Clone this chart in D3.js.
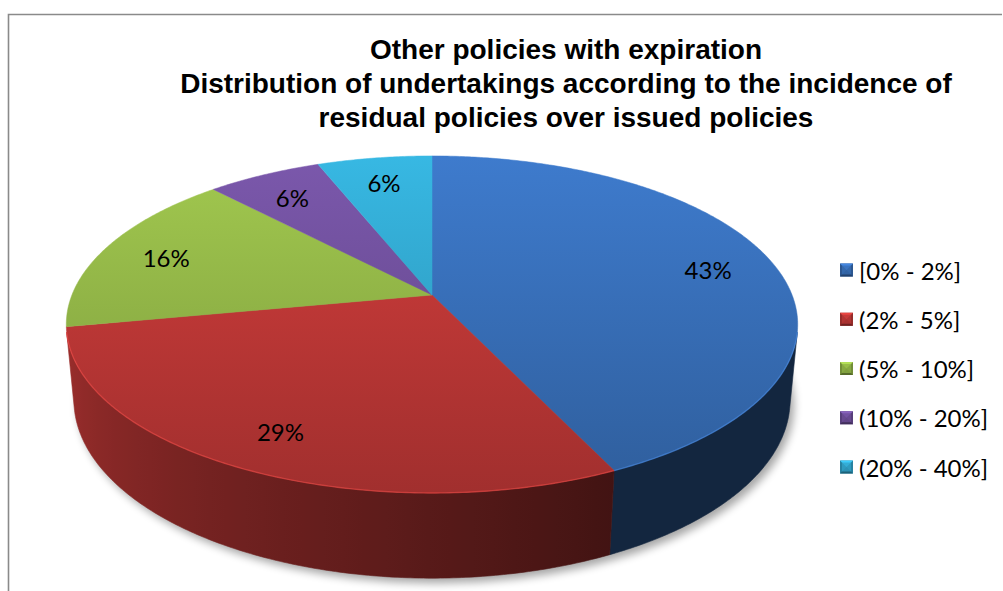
<!DOCTYPE html>
<html>
<head>
<meta charset="utf-8">
<script src="https://cdn.jsdelivr.net/npm/d3@7"></script>
<style>
  body { margin: 0; background: #fff; }
  svg { display: block; }
</style>
</head>
<body>
<svg id="chart" width="1003" height="591"></svg>
<script>
// ---- chart content ----
const titleLines = [
  "Other policies with expiration",
  "Distribution of undertakings according to the incidence of",
  "residual policies over issued policies"
];
const categories = ["[0% - 2%]", "(2% - 5%]", "(5% - 10%]", "(10% - 20%]", "(20% - 40%]"];
const shares = [43, 29, 16, 6, 6];
const sliceColors = ["#376db5", "#bb3735", "#8fb246", "#6d4e98", "#31a3c9"];

// ---- layout ----
const W = 1003, H = 591;
const svg = d3.select("#chart");
const defs = svg.append("defs");

// perspective view of a flat disc (radius 1, thickness depthT)
const cx = 432, cy = 295;
const tiltSin = 0.45, tiltCos = Math.sqrt(1 - tiltSin * tiltSin);
const dist = 5.11;
const kx = 1840, ky = 1855;
const depthT = 0.235;

function project(a, r, h) {
  const X = r * Math.sin(a), Z = r * Math.cos(a);
  const vy = h - dist * tiltSin, vz = Z + dist * tiltCos;
  const depth = -vy * tiltSin + vz * tiltCos;
  const up = vy * tiltCos + vz * tiltSin;
  return [cx + kx * X / depth, cy - ky * up / depth];
}

// visible arc of the outer wall
const silhouette = Math.acos(1 / (dist * tiltCos));
const wallStart = Math.PI - silhouette, wallEnd = Math.PI + silhouette;

const color = d3.scaleOrdinal().domain(categories).range(sliceColors);
const pie = d3.pie().sort(null).value(d => d.v).startAngle(0).endAngle(2 * Math.PI);
const arcs = pie(categories.map((c, i) => ({ c, v: shares[i] })));

// wall brightness: dark on the right-front, lit toward the left
const wallLight = d3.scaleLinear()
  .domain([wallStart, 2.70, wallEnd])
  .range([0.35, 0.35, 0.84])
  .clamp(true);

const line = d3.line();
function sample(a0, a1, step) {
  const n = Math.max(2, Math.ceil(Math.abs(a1 - a0) / step));
  return d3.range(n + 1).map(i => a0 + (a1 - a0) * i / n);
}
function scaleColor(c, f) {
  const col = d3.rgb(c);
  return d3.rgb(Math.min(255, col.r * f), Math.min(255, col.g * f), Math.min(255, col.b * f)).formatHex();
}

// ---- border ----
svg.append("path")
  .attr("d", `M8.5,${H} V14.5 H1002`)
  .attr("fill", "none")
  .attr("stroke", "#8a8a8a")
  .attr("stroke-width", 1.6);

// ---- title ----
const title = svg.append("g")
  .attr("font-family", "'Liberation Sans', Arial, sans-serif")
  .attr("font-weight", "bold")
  .attr("font-size", 28)
  .attr("text-anchor", "middle")
  .attr("fill", "#000");
titleLines.forEach((t, i) => {
  title.append("text").attr("x", 566).attr("y", 59 + i * 34).text(t);
});

// ---- shadow ----
const blur = defs.append("filter").attr("id", "shadowBlur")
  .attr("x", "-20%").attr("y", "-20%").attr("width", "140%").attr("height", "140%");
blur.append("feGaussianBlur").attr("stdDeviation", 4);

const outline = sample(0, 2 * Math.PI, 0.02).map(a => project(a, 1, -depthT));
svg.append("path")
  .attr("d", line(outline) + "Z")
  .attr("transform", "translate(4,5)")
  .attr("fill", "#000")
  .attr("opacity", 0.35)
  .attr("filter", "url(#shadowBlur)");

// ---- outer wall ----
const walls = svg.append("g");
arcs.forEach((d, i) => {
  const a0 = Math.max(d.startAngle, wallStart), a1 = Math.min(d.endAngle, wallEnd);
  if (a1 <= a0) return;
  const angles = sample(a0, a1, 0.01);
  const topPts = angles.map(a => project(a, 1, 0));
  const botPts = angles.slice().reverse().map(a => project(a, 1, -depthT));
  const gid = "wall" + i;
  const x0 = topPts[0][0], x1 = topPts[topPts.length - 1][0];
  const g = defs.append("linearGradient").attr("id", gid)
    .attr("gradientUnits", "userSpaceOnUse")
    .attr("x1", x0).attr("y1", 0).attr("x2", x1).attr("y2", 0);
  sample(a0, a1, 0.05).forEach(a => {
    const px = project(a, 1, 0)[0];
    const off = x1 === x0 ? 0 : (px - x0) / (x1 - x0);
    g.append("stop").attr("offset", off)
      .attr("stop-color", scaleColor(color(d.data.c), wallLight(a)));
  });
  walls.append("path")
    .attr("d", line(topPts.concat(botPts)) + "Z")
    .attr("fill", `url(#${gid})`)
    .attr("stroke", `url(#${gid})`)
    .attr("stroke-width", 0.6);
});

// ---- top face ----
const topY0 = project(0, 1, 0)[1], topY1 = project(Math.PI, 1, 0)[1];
const tops = svg.append("g");
arcs.forEach((d, i) => {
  const gid = "top" + i;
  const base = color(d.data.c);
  const g = defs.append("linearGradient").attr("id", gid)
    .attr("gradientUnits", "userSpaceOnUse")
    .attr("x1", 0).attr("y1", topY0).attr("x2", 0).attr("y2", topY1);
  g.append("stop").attr("offset", 0).attr("stop-color", scaleColor(base, 1.13));
  g.append("stop").attr("offset", 1).attr("stop-color", scaleColor(base, 0.86));
  const pts = [project(0, 0, 0)].concat(sample(d.startAngle, d.endAngle, 0.01).map(a => project(a, 1, 0)));
  tops.append("path")
    .attr("d", line(pts) + "Z")
    .attr("fill", `url(#${gid})`)
    .attr("stroke", `url(#${gid})`)
    .attr("stroke-width", 0.5);
});

// light bevel along the front rim
arcs.forEach(d => {
  const a0 = Math.max(d.startAngle, wallStart), a1 = Math.min(d.endAngle, wallEnd);
  if (a1 <= a0) return;
  tops.append("path")
    .attr("d", line(sample(a0, a1, 0.01).map(a => project(a, 1, 0))))
    .attr("fill", "none")
    .attr("stroke", scaleColor(color(d.data.c), 1.3))
    .attr("stroke-opacity", 0.55)
    .attr("stroke-width", 1.4);
});

// ---- data labels ----
const labels = svg.append("g")
  .attr("font-family", "Lato, 'Open Sans', sans-serif")
  .attr("font-size", 24)
  .attr("text-anchor", "middle")
  .attr("fill", "#000");
arcs.forEach(d => {
  const mid = (d.startAngle + d.endAngle) / 2;
  const [x, y] = project(mid, 0.81, 0);
  labels.append("text")
    .attr("x", x).attr("y", y + 2)
    .attr("dominant-baseline", "central")
    .text(d3.format(".0f")(d.data.v) + "%");
});

// ---- legend ----
const legendY = d3.scalePoint().domain(categories).range([270, 467]);
const legend = svg.append("g")
  .attr("font-family", "Lato, 'Open Sans', sans-serif")
  .attr("font-size", 24)
  .attr("fill", "#000");
categories.forEach(c => {
  const y = legendY(c), x = 840, s = 13;
  const base = color(c);
  const g = legend.append("g").attr("transform", `translate(${x},${y - s / 2})`);
  g.append("rect").attr("width", s).attr("height", s).attr("fill", scaleColor(base, 0.8));
  g.append("path").attr("d", `M0,0 H${s} L${s / 2},${s / 2}Z`).attr("fill", scaleColor(base, 1.25));
  g.append("path").attr("d", `M0,${s} H${s} L${s / 2},${s / 2}Z`).attr("fill", scaleColor(base, 0.6));
  g.append("rect").attr("x", 2).attr("y", 2).attr("width", s - 4).attr("height", s - 4)
    .attr("fill", base).attr("opacity", 0.75);
  legend.append("text")
    .attr("x", 859).attr("y", y)
    .attr("dominant-baseline", "central")
    .text(c);
});
</script>
</body>
</html>
